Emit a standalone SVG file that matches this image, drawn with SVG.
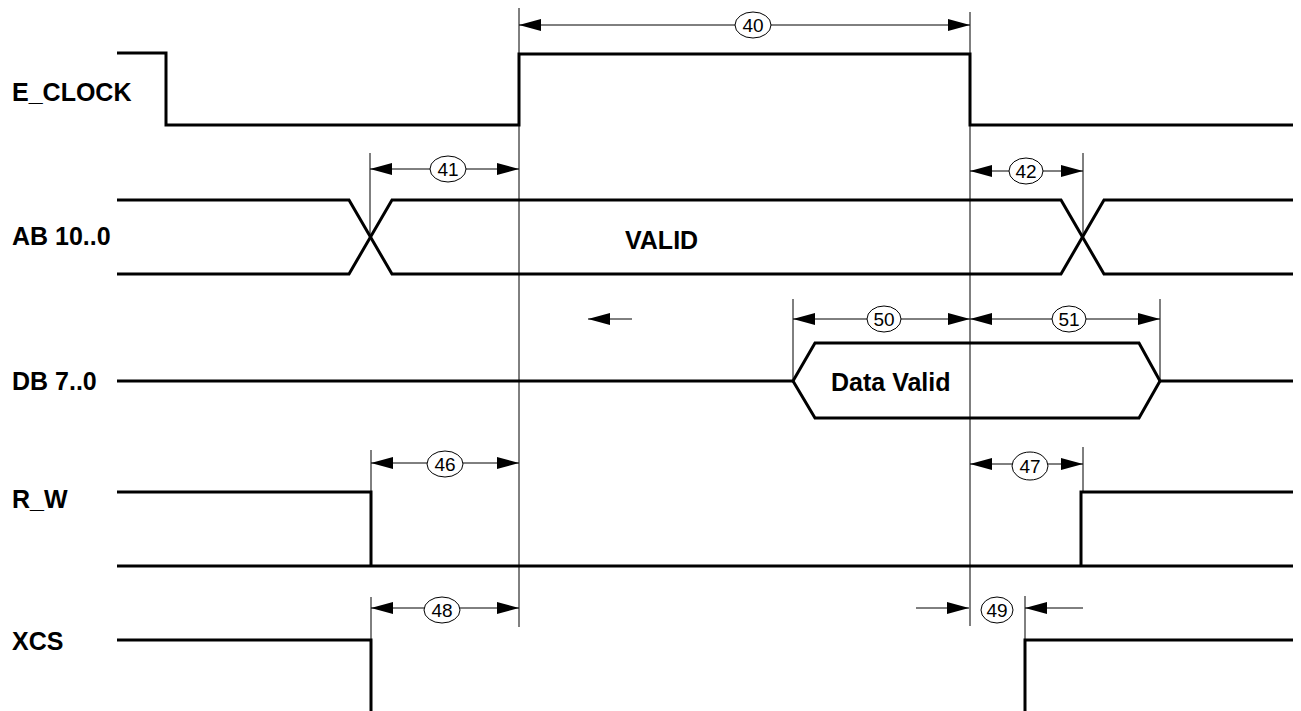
<svg xmlns="http://www.w3.org/2000/svg" width="1301" height="711" viewBox="0 0 1301 711">
<style>
.sig{fill:none;stroke:#000;stroke-width:3;stroke-linejoin:miter}
.ref{fill:none;stroke:#000;stroke-width:1}
.dim{fill:none;stroke:#000;stroke-width:1}
.arr{marker-start:url(#ah);marker-end:url(#ah)}
.lbl{font-family:"Liberation Sans",Arial,sans-serif;font-weight:bold;font-size:25px;fill:#000}
.num{font-family:"Liberation Sans",Arial,sans-serif;font-size:19px;fill:#000;text-anchor:middle}
.bub{fill:#fff;stroke:#000;stroke-width:1}
</style>
<defs>
<marker id="ah" viewBox="0 0 22 12" refX="22" refY="6" markerWidth="22" markerHeight="12" markerUnits="userSpaceOnUse" orient="auto-start-reverse">
<path d="M0,0 L22,6 L0,12 z" fill="#000"/>
</marker>
</defs>

<g id="refs">
<line class="ref" x1="519" y1="8" x2="519" y2="627"/>
<line class="ref" x1="970" y1="12" x2="970" y2="626"/>
<line class="ref" x1="370" y1="153" x2="370" y2="237"/>
<line class="ref" x1="1083" y1="153" x2="1083" y2="237"/>
<line class="ref" x1="793" y1="299" x2="793" y2="381"/>
<line class="ref" x1="1160" y1="299" x2="1160" y2="381"/>
<line class="ref" x1="371" y1="450" x2="371" y2="492"/>
<line class="ref" x1="1083" y1="447" x2="1083" y2="492"/>
<line class="ref" x1="371" y1="597" x2="371" y2="640"/>
<line class="ref" x1="1025" y1="596" x2="1025" y2="640"/>
</g>

<g id="connectors">
<line class="dim arr" x1="519" y1="25" x2="970" y2="25"/>
<line class="dim arr" x1="370" y1="169" x2="519" y2="169"/>
<line class="dim arr" x1="970" y1="171" x2="1083" y2="171"/>
<line class="dim arr" x1="793" y1="319" x2="970" y2="319"/>
<line class="dim arr" x1="970" y1="319" x2="1160" y2="319"/>
<line class="dim arr" x1="371" y1="463" x2="519" y2="463"/>
<line class="dim arr" x1="970" y1="464" x2="1083" y2="464"/>
<line class="dim arr" x1="371" y1="608" x2="519" y2="608"/>
<line class="dim" x1="916" y1="608" x2="969" y2="608" marker-end="url(#ah)"/>
<line class="dim" x1="1083" y1="608" x2="1025" y2="608" marker-end="url(#ah)"/>
<line class="dim" x1="632" y1="319" x2="588" y2="319" marker-end="url(#ah)"/>
</g>

<g id="e_clock">
<text class="lbl" x="12" y="101">E_CLOCK</text>
<polyline class="sig" points="117,53 166,53 166,125 519,125 519,54 970,54 970,125 1293,125"/>
</g>

<g id="ab">
<text class="lbl" x="12" y="245">AB 10..0</text>
<polyline class="sig" points="117,200 349,200 392,274 1061,274 1104,200 1293,200"/>
<polyline class="sig" points="117,274 349,274 392,200 1061,200 1104,274 1293,274"/>
<text class="lbl" x="625" y="249">VALID</text>
</g>

<g id="db">
<text class="lbl" x="12" y="390">DB 7..0</text>
<polyline class="sig" points="117,381 793,381 815,343 1139,343 1160,381 1293,381"/>
<polyline class="sig" points="793,381 815,418 1139,418 1160,381"/>
<text class="lbl" x="831" y="391">Data Valid</text>
</g>

<g id="r_w">
<text class="lbl" x="12" y="508">R_W</text>
<polyline class="sig" points="117,492 371,492 371,566"/>
<line class="sig" x1="117" y1="566" x2="1293" y2="566"/>
<polyline class="sig" points="1081,566 1081,492 1293,492"/>
</g>

<g id="xcs">
<text class="lbl" x="12" y="650">XCS</text>
<polyline class="sig" points="117,640 371,640 371,711"/>
<polyline class="sig" points="1025,711 1025,640 1293,640"/>
</g>

<g id="bubbles">
<g id="b40"><ellipse class="bub" cx="753" cy="25" rx="18" ry="13"/><text class="num" x="753" y="32">40</text></g>
<g id="b41"><ellipse class="bub" cx="448" cy="169" rx="18" ry="13"/><text class="num" x="448" y="176">41</text></g>
<g id="b42"><ellipse class="bub" cx="1026" cy="171" rx="17" ry="13"/><text class="num" x="1026" y="178">42</text></g>
<g id="b50"><ellipse class="bub" cx="884" cy="319" rx="17" ry="13"/><text class="num" x="884" y="326">50</text></g>
<g id="b51"><ellipse class="bub" cx="1069" cy="319" rx="17" ry="13"/><text class="num" x="1069" y="326">51</text></g>
<g id="b46"><ellipse class="bub" cx="445" cy="464" rx="18" ry="13"/><text class="num" x="445" y="471">46</text></g>
<g id="b47"><ellipse class="bub" cx="1030" cy="466" rx="18" ry="14"/><text class="num" x="1030" y="473">47</text></g>
<g id="b48"><ellipse class="bub" cx="442" cy="610" rx="18" ry="13"/><text class="num" x="442" y="617">48</text></g>
<g id="b49"><ellipse class="bub" cx="997" cy="610" rx="16" ry="13"/><text class="num" x="997" y="617">49</text></g>
</g>
</svg>
